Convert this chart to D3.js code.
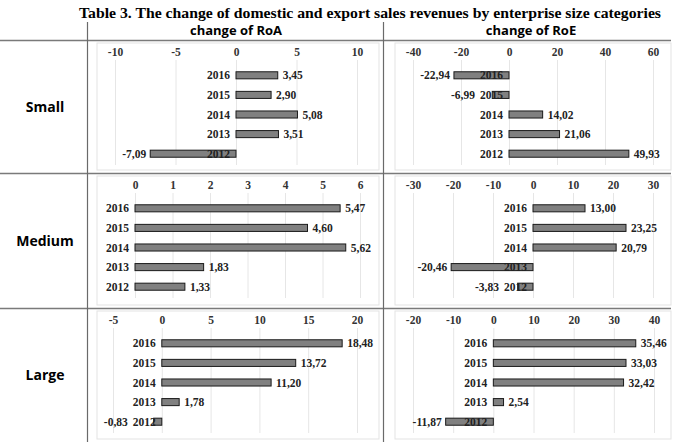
<!DOCTYPE html>
<html><head><meta charset="utf-8">
<script src="https://cdn.jsdelivr.net/npm/d3@7"></script>
<style>body{margin:0;background:#fff}svg{display:block}</style>
</head><body><svg id="c" width="685" height="442"></svg>
<script>
const title = "Table 3. The change of domestic and export sales revenues by enterprise size categories";
const colHeaders = ["change of RoA", "change of RoE"];
const rowLabels = ["Small", "Medium", "Large"];
const years = ["2016", "2015", "2014", "2013", "2012"];
const smallRoA = [3.45, 2.90, 5.08, 3.51, -7.09];
const smallRoE = [-22.94, -6.99, 14.02, 21.06, 49.93];
const mediumRoA = [5.47, 4.60, 5.62, 1.83, 1.33];
const mediumRoE = [13.00, 23.25, 20.79, -20.46, -3.83];
const largeRoA = [18.48, 13.72, 11.20, 1.78, -0.83];
const largeRoE = [35.46, 33.03, 32.42, 2.54, -11.87];
const smallRoATicks = [-10, -5, 0, 5, 10];
const smallRoETicks = [-40, -20, 0, 20, 40, 60];
const mediumRoATicks = [0, 1, 2, 3, 4, 5, 6];
const mediumRoETicks = [-30, -20, -10, 0, 10, 20, 30];
const largeRoATicks = [-5, 0, 5, 10, 15, 20];
const largeRoETicks = [-20, -10, 0, 10, 20, 30, 40];

const svg = d3.select("#c");
const rowTops = [40, 173, 308];
const rowBottoms = [173, 308, 442];
const panels = [
  {row:0, col:0, vals: smallRoA, ticks: smallRoATicks, range:[115,357]},
  {row:0, col:1, vals: smallRoE, ticks: smallRoETicks, range:[413,653]},
  {row:1, col:0, vals: mediumRoA, ticks: mediumRoATicks, range:[135,360]},
  {row:1, col:1, vals: mediumRoE, ticks: mediumRoETicks, range:[413,653]},
  {row:2, col:0, vals: largeRoA, ticks: largeRoATicks, range:[113,357]},
  {row:2, col:1, vals: largeRoE, ticks: largeRoETicks, range:[413,654]}
];
const chartBox = [[97,379],[395,671]];
const fmt = v => d3.format(".2f")(v).replace(".", ",").replace("\u2212","-");

// Title
svg.append("text").attr("x", 370).attr("y", 18).attr("text-anchor","middle")
  .attr("font-family","Liberation Serif, serif").attr("font-weight","bold").attr("font-size",15.5)
  .attr("textLength", 582).attr("lengthAdjust","spacingAndGlyphs").attr("fill","#000").text(title);

// Column headers
[236, 531].forEach((x,i)=>{
  svg.append("text").attr("x", x).attr("y", 35).attr("text-anchor","middle")
    .attr("font-family","Open Sans, sans-serif").attr("font-weight","bold").attr("font-size",13)
    .attr("fill","#000").text(colHeaders[i]);
});

// chart area borders
panels.forEach(p=>{
  const [x0,x1] = chartBox[p.col];
  svg.append("rect").attr("x", x0).attr("y", rowTops[p.row]+3)
    .attr("width", x1-x0).attr("height", rowBottoms[p.row]-rowTops[p.row]-6)
    .attr("fill","none").attr("stroke","#e3e3e3").attr("stroke-width",1);
});

// Table lines
rowTops.forEach(y=>{
  svg.append("line").attr("x1",0).attr("x2",671).attr("y1",y+0.5).attr("y2",y+0.5)
    .attr("stroke","#7a7a7a").attr("stroke-width",1.5);
});
[87,383].forEach(x=>{
  svg.append("line").attr("x1",x+0.5).attr("x2",x+0.5).attr("y1",22).attr("y2",442)
    .attr("stroke","#6a6a6a").attr("stroke-width",1.2);
});

// Row labels
rowLabels.forEach((t,i)=>{
  svg.append("text").attr("x", 45).attr("y", (rowTops[i]+rowBottoms[i])/2+5).attr("text-anchor","middle")
    .attr("font-family","Open Sans, sans-serif").attr("font-weight","bold").attr("font-size",14)
    .attr("fill","#000").text(t);
});

const serif = "'Liberation Serif', 'Times New Roman', serif";
const fs = 11.5;

panels.forEach(p=>{
  const top = rowTops[p.row];
  const x = d3.scaleLinear().domain([p.ticks[0], p.ticks[p.ticks.length-1]]).range(p.range);
  const y = d3.scaleBand().domain(years).range([top+25.5, top+123.5]).paddingInner(0.64).paddingOuter(0.32);
  const g = svg.append("g");

  // gridlines
  g.append("g").attr("transform",`translate(0,${top+20})`)
    .call(d3.axisBottom(x).tickValues(p.ticks).tickSize(105).tickFormat(""))
    .call(s=>s.select(".domain").remove())
    .call(s=>s.selectAll("line").attr("stroke","#e6e6e6"));

  // axis labels
  g.append("g").attr("transform",`translate(0,${top+16})`)
    .call(d3.axisTop(x).tickValues(p.ticks).tickSize(0).tickPadding(0).tickFormat(d=>String(d)))
    .call(s=>s.select(".domain").remove())
    .call(s=>s.selectAll("text").attr("font-family",serif).attr("font-weight","bold").attr("font-size",fs).attr("fill","#333"));

  // bars
  g.selectAll("rect.bar").data(p.vals).join("rect").attr("class","bar")
    .attr("x", d=>Math.min(x(0), x(d))).attr("width", d=>Math.abs(x(d)-x(0)))
    .attr("y", (d,i)=>y(years[i])).attr("height", y.bandwidth())
    .attr("fill","#808080").attr("stroke","#1a1a1a").attr("stroke-width",1);

  // category labels
  const cats = g.selectAll("text.cat").data(years).join("text").attr("class","cat")
    .attr("x", x(0)-6).attr("y", d=>y(d)+y.bandwidth()/2+4).attr("text-anchor","end")
    .attr("font-family",serif).attr("font-weight","bold").attr("font-size",fs).attr("fill","#222").text(d=>d);
  const catW = cats.nodes().map(n=>n.getComputedTextLength());

  // value labels (negative ones pushed left of the category label)
  g.selectAll("text.val").data(p.vals).join("text").attr("class","val")
    .attr("x", (d,i)=> d>=0 ? x(d)+5 : Math.min(x(d)-4, x(0)-6-catW[i]-5))
    .attr("y", (d,i)=>y(years[i])+y.bandwidth()/2+4)
    .attr("text-anchor", d=> d>=0 ? "start" : "end")
    .attr("font-family",serif).attr("font-weight","bold").attr("font-size",fs).attr("fill","#222").text(d=>fmt(d));
});
</script></body></html>
